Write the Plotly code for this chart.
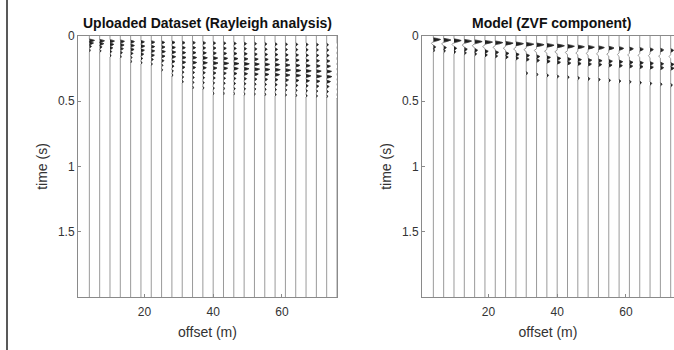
import plotly.graph_objects as go

# ---------------- data ----------------
offsets = [4, 7, 10, 13, 16, 19, 22, 25, 28, 31, 34, 37, 40,
           43, 46, 49, 52, 55, 58, 61, 64, 67, 70, 73, 76]

# Uploaded dataset: lobe peak times (ms) and amplitudes (m) per trace
upl_times_ms = [
    [35, 55, 80, 110],
    [38, 60, 85, 115],
    [40, 65, 92, 120, 150],
    [42, 70, 98, 128, 158],
    [44, 74, 104, 134, 165, 195],
    [46, 78, 110, 140, 172, 205],
    [48, 82, 115, 148, 180, 215],
    [50, 85, 120, 155, 190, 225, 260],
    [50, 88, 124, 160, 196, 232, 268, 300],
    [52, 90, 128, 165, 202, 240, 278, 315, 350],
    [52, 90, 128, 166, 204, 242, 280, 318, 356, 395],
    [54, 92, 130, 168, 206, 244, 282, 320, 358, 398],
    [55, 93, 132, 170, 208, 246, 284, 322, 360, 400, 440],
    [56, 95, 134, 172, 210, 248, 286, 324, 362, 402, 440],
    [58, 96, 135, 174, 212, 250, 288, 326, 364, 404, 442],
    [60, 98, 137, 176, 214, 252, 290, 328, 366, 405, 444],
    [60, 100, 140, 178, 216, 255, 293, 331, 369, 407, 445],
    [62, 102, 142, 180, 218, 257, 295, 333, 371, 409, 447],
    [63, 103, 143, 182, 220, 259, 297, 335, 373, 411, 449],
    [64, 104, 145, 184, 223, 262, 300, 338, 376, 414, 452],
    [65, 105, 146, 186, 226, 265, 303, 341, 379, 417, 455],
    [66, 106, 148, 188, 228, 268, 306, 344, 382, 420, 458],
    [67, 107, 149, 190, 230, 270, 309, 347, 385, 423, 460],
    [68, 108, 150, 192, 232, 272, 312, 350, 388, 426, 462],
    [69, 109, 151, 194, 234, 274, 314, 352, 390, 428, 465],
]
upl_amps = [
    [1.5, 1.2, 0.6, 0.3],
    [1.4, 1.2, 0.7, 0.4],
    [1.3, 1.1, 0.8, 0.5, 0.3],
    [1.2, 1.1, 0.9, 0.6, 0.3],
    [1.1, 1.1, 1.0, 0.7, 0.4, 0.3],
    [1.0, 1.1, 1.0, 0.8, 0.5, 0.3],
    [1.0, 1.0, 1.0, 0.9, 0.6, 0.3],
    [0.9, 1.0, 1.1, 1.0, 0.7, 0.4, 0.3],
    [0.9, 1.0, 1.1, 1.1, 0.9, 0.6, 0.4, 0.3],
    [0.8, 0.9, 1.0, 1.1, 1.0, 0.8, 0.5, 0.4, 0.3],
    [0.8, 0.9, 1.0, 1.2, 1.2, 0.9, 0.6, 0.5, 0.4, 0.3],
    [0.8, 0.8, 1.0, 1.3, 1.3, 1.0, 0.7, 0.5, 0.4, 0.3],
    [0.7, 0.8, 0.9, 1.3, 1.4, 1.1, 0.8, 0.6, 0.4, 0.3, 0.2],
    [0.7, 0.8, 0.9, 1.2, 1.5, 1.2, 0.8, 0.6, 0.5, 0.3, 0.2],
    [0.7, 0.7, 0.9, 1.2, 1.5, 1.3, 0.9, 0.6, 0.5, 0.4, 0.2],
    [0.7, 0.7, 0.9, 1.1, 1.5, 1.4, 1.0, 0.7, 0.5, 0.4, 0.2],
    [0.6, 0.7, 0.8, 1.1, 1.4, 1.5, 1.1, 0.7, 0.5, 0.4, 0.2],
    [0.6, 0.7, 0.8, 1.0, 1.4, 1.5, 1.2, 0.8, 0.5, 0.4, 0.3],
    [0.6, 0.7, 0.8, 1.0, 1.3, 1.5, 1.3, 0.8, 0.6, 0.4, 0.3],
    [0.6, 0.6, 0.8, 1.0, 1.3, 1.5, 1.3, 0.9, 0.6, 0.4, 0.3],
    [0.6, 0.6, 0.8, 1.0, 1.2, 1.5, 1.4, 0.9, 0.6, 0.4, 0.3],
    [0.6, 0.6, 0.7, 0.9, 1.2, 1.5, 1.4, 1.0, 0.6, 0.4, 0.3],
    [0.6, 0.6, 0.7, 0.9, 1.1, 1.4, 1.5, 1.0, 0.7, 0.4, 0.3],
    [0.5, 0.6, 0.7, 0.9, 1.1, 1.4, 1.5, 1.1, 0.7, 0.5, 0.3],
    [0.5, 0.6, 0.7, 0.9, 1.1, 1.3, 1.5, 1.1, 0.7, 0.5, 0.3],
]

# Model (ZVF component): lobe peak times (ms) and amplitudes (m) per trace
mod_times_ms = [
    [28, 58, 85, 110],
    [32, 62, 90, 115],
    [36, 66, 95, 122],
    [40, 71, 102, 130],
    [44, 76, 110, 138],
    [48, 82, 118, 146],
    [52, 88, 126, 154],
    [56, 94, 134, 162],
    [60, 100, 142, 170],
    [64, 106, 150, 180, 285],
    [68, 112, 158, 188, 295],
    [72, 117, 165, 195, 302],
    [76, 122, 172, 202, 310],
    [80, 127, 178, 208, 316],
    [84, 131, 182, 212, 322],
    [87, 134, 186, 216, 328],
    [90, 137, 190, 220, 334],
    [93, 140, 194, 224, 340],
    [96, 143, 198, 228, 346],
    [99, 146, 202, 232, 352],
    [102, 149, 206, 236, 358],
    [105, 152, 210, 240, 364],
    [108, 155, 214, 244, 370],
    [111, 158, 218, 248, 376],
    [114, 161, 222, 252, 382],
]
mod_amps = [
    [2.2, -0.6, 0.7, 0.4],
    [2.2, -0.6, 0.8, 0.5],
    [2.2, -0.6, 0.8, 0.5],
    [2.2, -0.6, 0.9, 0.6],
    [2.3, -0.7, 0.9, 0.6],
    [2.3, -0.7, 1.0, 0.7],
    [2.3, -0.7, 1.0, 0.7],
    [2.3, -0.7, 1.0, 0.8],
    [2.3, -0.7, 1.0, 0.8],
    [2.3, -0.7, 1.0, 0.9, 0.4],
    [2.3, -0.7, 1.0, 0.9, 0.4],
    [2.2, -0.7, 1.1, 1.0, 0.5],
    [2.2, -0.7, 1.1, 1.0, 0.5],
    [2.1, -0.7, 1.1, 1.0, 0.5],
    [2.0, -0.6, 1.1, 1.0, 0.5],
    [1.9, -0.6, 1.1, 1.0, 0.5],
    [1.8, -0.6, 1.1, 1.0, 0.5],
    [1.6, -0.6, 1.1, 1.0, 0.5],
    [1.4, -0.5, 1.1, 1.0, 0.5],
    [1.2, -0.5, 1.1, 1.0, 0.5],
    [1.1, -0.5, 1.1, 1.0, 0.5],
    [1.0, -0.5, 1.0, 1.0, 0.5],
    [1.0, -0.5, 1.0, 1.0, 0.5],
    [0.9, -0.5, 1.0, 1.0, 0.5],
    [0.9, -0.5, 1.0, 1.0, 0.5],
]

time_ticks = [0, 0.5, 1, 1.5]
time_tick_text = ["0", "0.5", "1", "1.5"]
offset_ticks = [20, 40, 60]
t_end = 2.0
panel_titles = ["Uploaded Dataset (Rayleigh analysis)", "Model (ZVF component)"]

# ---------------- drawing ----------------
LOBE_H = [0.012, 0.014]  # half height of a lobe in seconds, per panel
SHAPE = [(-1.0, 0.0), (-0.6, 0.7), (-0.1, 1.0), (0.45, 0.65), (1.0, 0.0)]
GAIN = [1.0, 0.95]   # display gain per panel


def build(times_ms, amps, gain, h):
    lx, ly, fx, fy = [], [], [], []
    for x0, ts, As in zip(offsets, times_ms, amps):
        lx.append(x0)
        ly.append(0.0)
        for tm, a in sorted(zip(ts, As)):
            t = tm / 1000.0
            pts = [(x0 + gain * a * af, t + h * tf) for tf, af in SHAPE]
            for px, py in pts:
                lx.append(px)
                ly.append(py)
            if a > 0:
                for px, py in pts:
                    fx.append(px)
                    fy.append(py)
                fx.append(None)
                fy.append(None)
        lx.append(x0)
        ly.append(t_end)
        lx.append(None)
        ly.append(None)
    return lx, ly, fx, fy


fig = go.Figure()
for i, (tms, amps) in enumerate([(upl_times_ms, upl_amps), (mod_times_ms, mod_amps)]):
    lx, ly, fx, fy = build(tms, amps, GAIN[i], LOBE_H[i])
    xa = "x" if i == 0 else "x2"
    ya = "y" if i == 0 else "y2"
    fig.add_trace(go.Scatter(x=lx, y=ly, mode="lines", xaxis=xa, yaxis=ya,
                             line=dict(color="#9a9a9a", width=1),
                             hoverinfo="skip", showlegend=False))
    fig.add_trace(go.Scatter(x=fx, y=fy, mode="lines", xaxis=xa, yaxis=ya,
                             fill="toself", fillcolor="#202020",
                             line=dict(color="#202020", width=0.5),
                             hoverinfo="skip", showlegend=False))

W, H = 674, 350
FONT = "Liberation Sans, Arial, sans-serif"
TXT = "#333333"

ydom = [(H - 297) / H, (H - 36) / H]
common_x = dict(showgrid=False, zeroline=False, showline=True, linecolor="#8a8a8a",
                linewidth=1, mirror=True, ticks="inside", ticklen=3, tickcolor="#8a8a8a",
                tickvals=offset_ticks, tickfont=dict(family=FONT, size=12, color=TXT),
                automargin=False, ticklabelstandoff=4,
                title=dict(text="offset (m)", font=dict(family=FONT, size=14, color=TXT), standoff=8))
common_y = dict(showgrid=False, zeroline=False, showline=True, linecolor="#8a8a8a",
                linewidth=1, mirror=True, ticks="inside", ticklen=3, tickcolor="#8a8a8a",
                range=[t_end, 0], tickvals=time_ticks, ticktext=time_tick_text,
                tickfont=dict(family=FONT, size=12, color=TXT), automargin=False,
                title=dict(text="time (s)", font=dict(family=FONT, size=14, color=TXT), standoff=7))

fig.update_layout(
    width=W, height=H,
    template="none",
    margin=dict(l=0, r=0, t=0, b=0, pad=0),
    paper_bgcolor="white", plot_bgcolor="white",
    xaxis=dict(domain=[78 / W, 337 / W], range=[0.7, 76.0], anchor="y", **common_x),
    yaxis=dict(domain=ydom, anchor="x", **common_y),
    xaxis2=dict(domain=[422 / W, 1.0], range=[0.7, 73.96], anchor="y2", **common_x),
    yaxis2=dict(domain=ydom, anchor="x2", **common_y),
    annotations=[
        dict(text="<b>%s</b>" % panel_titles[0], x=(78 + 337) / 2 / W, y=(H - 23) / H,
             xref="paper", yref="paper", showarrow=False, xanchor="center", yanchor="middle",
             font=dict(family=FONT, size=14, color="#111111")),
        dict(text="<b>%s</b>" % panel_titles[1], x=(422 + 681) / 2 / W, y=(H - 23) / H,
             xref="paper", yref="paper", showarrow=False, xanchor="center", yanchor="middle",
             font=dict(family=FONT, size=14, color="#111111")),
    ],
    shapes=[dict(type="line", xref="paper", yref="paper", x0=7 / W, x1=7 / W, y0=0, y1=1,
                 line=dict(color="#222222", width=1.5))],
)

fig.write_html("out.html", config={"displayModeBar": False},
               post_script="document.body.style.margin='0';document.body.style.overflow='hidden';")
